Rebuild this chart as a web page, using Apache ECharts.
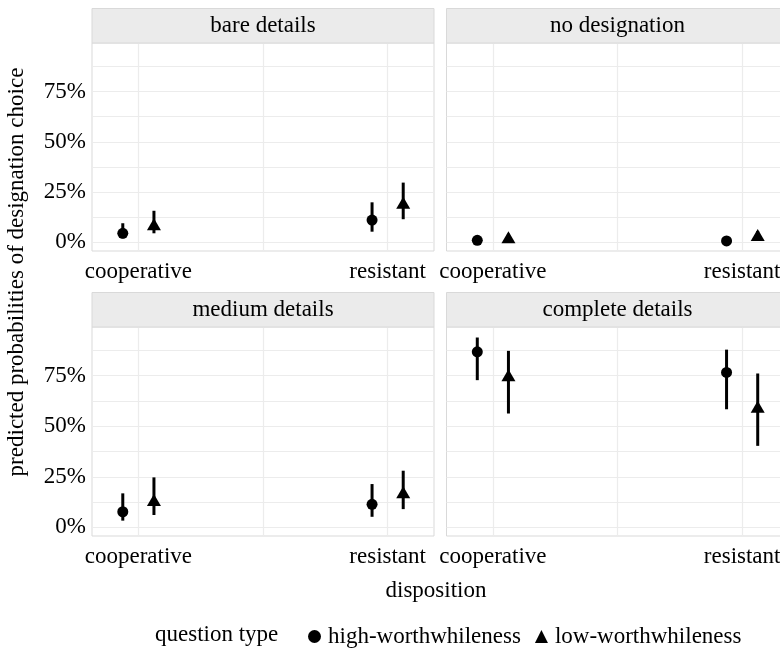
<!DOCTYPE html>
<html>
<head>
<meta charset="utf-8">
<script src="https://cdn.jsdelivr.net/npm/echarts@6/dist/echarts.min.js"></script>
<style>
  html, body { margin: 0; padding: 0; background: #fff; overflow: hidden; }
  #chart { width: 792px; height: 651px; }
</style>
</head>
<body>
<div id="chart"></div>
<script>
// facet panels, in reading order
const panels = ['bare details', 'no designation', 'medium details', 'complete details'];
const dispositions = ['cooperative', 'resistant'];
const yTicks = [0, 25, 50, 75];
const yMinor = [12.5, 37.5, 62.5, 87.5];

// predicted probability (%) per panel, [cooperative, resistant]
const highEst = [[4.5, 11.1], [1, 0.7], [7.7, 11.4], [86.8, 76.6]];
const highLo = [[2, 5.3], [0.3, 0.2], [3.3, 5.2], [72.8, 58.4]];
const highHi = [[9.5, 19.9], [2.2, 1.8], [16.8, 21.4], [93.9, 87.9]];

const lowEst = [[9, 19.7], [2.5, 3.6], [13.5, 17.3], [75.2, 59.6]];
const lowLo = [[4.5, 11.5], [1.2, 2], [6.1, 9], [56.3, 40.3]];
const lowHi = [[15.7, 29.7], [4.3, 5.6], [24.7, 28], [87.3, 76.1]];

const FONT = "'Liberation Serif', 'Times New Roman', serif";
const dodge = 0.0625;

// the original figure is cropped on the right, so the chart is a bit wider than the window
const chart = echarts.init(document.getElementById('chart'));

const boxes = [
    { left: 92, top: 43, width: 342, height: 208 },
    { left: 446.5, top: 43, width: 342, height: 208 },
    { left: 92, top: 327, width: 342, height: 209 },
    { left: 446.5, top: 327, width: 342, height: 209 }
];
const stripH = 34.5;

const grids = boxes.map(b => ({
    left: b.left, top: b.top, width: b.width, height: b.height,
    show: true, borderColor: '#d9d9d9', borderWidth: 1, backgroundColor: '#fff'
}));

const xAxes = boxes.map((b, i) => ({
    type: 'value', gridIndex: i, min: 0.814, max: 2.186,
    axisLine: { show: false },
    axisTick: { show: false, customValues: [1, 1.5, 2] },
    splitLine: { show: true, lineStyle: { color: '#ececec', width: 1.2 } },
    axisLabel: {
        customValues: [1, 2], margin: 9,
        color: '#000', fontFamily: FONT, fontSize: 23,
        formatter: v => dispositions[Math.round(v) - 1]
    }
}));

const yAxes = boxes.map((b, i) => ({
    type: 'value', gridIndex: i, min: -4.3, max: 99.1,
    axisLine: { show: false },
    axisTick: { show: false, customValues: yTicks.concat(yMinor) },
    splitLine: { show: true, lineStyle: { color: '#ececec', width: 1.2 } },
    axisLabel: {
        show: i % 2 === 0, customValues: yTicks, margin: 6,
        color: '#000', fontFamily: FONT, fontSize: 23,
        formatter: v => v + '%'
    }
}));

const series = [];
panels.forEach((p, k) => {
    const bars = [];
    dispositions.forEach((d, j) => {
        bars.push([j + 1 - dodge, highLo[k][j], highHi[k][j]]);
        bars.push([j + 1 + dodge, lowLo[k][j], lowHi[k][j]]);
    });
    series.push({
        type: 'custom', xAxisIndex: k, yAxisIndex: k, silent: true,
        encode: { x: 0, y: [1, 2] },
        data: bars,
        renderItem: (params, api) => {
            const a = api.coord([api.value(0), api.value(1)]);
            const b = api.coord([api.value(0), api.value(2)]);
            return {
                type: 'line',
                shape: { x1: a[0], y1: a[1], x2: b[0], y2: b[1] },
                style: { stroke: '#000', lineWidth: 3 }
            };
        }
    });
    series.push({
        name: 'high-worthwhileness', type: 'scatter', xAxisIndex: k, yAxisIndex: k,
        symbol: 'circle', symbolSize: 11,
        itemStyle: { color: '#000', opacity: 1 },
        data: dispositions.map((d, j) => [j + 1 - dodge, highEst[k][j]])
    });
    series.push({
        name: 'low-worthwhileness', type: 'scatter', xAxisIndex: k, yAxisIndex: k,
        symbol: 'triangle', symbolSize: [14, 12],
        itemStyle: { color: '#000', opacity: 1 },
        data: dispositions.map((d, j) => [j + 1 + dodge, lowEst[k][j]])
    });
});

const graphics = [];
boxes.forEach((b, k) => {
    graphics.push({
        type: 'rect', z: 10,
        shape: { x: b.left, y: b.top - stripH, width: b.width, height: stripH },
        style: { fill: '#ebebeb', stroke: '#d9d9d9', lineWidth: 1 }
    });
    graphics.push({
        type: 'text', z: 11,
        x: b.left + b.width / 2, y: b.top - stripH / 2,
        style: {
            text: panels[k], fill: '#000', font: '23px ' + FONT,
            align: 'center', verticalAlign: 'middle'
        }
    });
});
graphics.push({
    type: 'text', x: 436, y: 591,
    style: { text: 'disposition', fill: '#000', font: '23px ' + FONT, align: 'center', verticalAlign: 'middle' }
});
graphics.push({
    type: 'text', x: 17, y: 272, rotation: Math.PI / 2,
    style: { text: 'predicted probabilities of designation choice', fill: '#000', font: '23px ' + FONT, align: 'center', verticalAlign: 'middle' }
});
graphics.push({
    type: 'text', x: 155, y: 635,
    style: { text: 'question type', fill: '#000', font: '23px ' + FONT, align: 'left', verticalAlign: 'middle' }
});

chart.setOption({
    animation: false,
    grid: grids,
    xAxis: xAxes,
    yAxis: yAxes,
    series: series,
    legend: {
        left: 303, top: 620, itemGap: 14, itemWidth: 13, itemHeight: 13,
        textStyle: { color: '#000', fontFamily: FONT, fontSize: 23, padding: [0, 0, 0, 2] },
        data: [
            { name: 'high-worthwhileness', icon: 'circle' },
            { name: 'low-worthwhileness', icon: 'triangle' }
        ]
    },
    graphic: graphics
});
</script>
</body>
</html>
